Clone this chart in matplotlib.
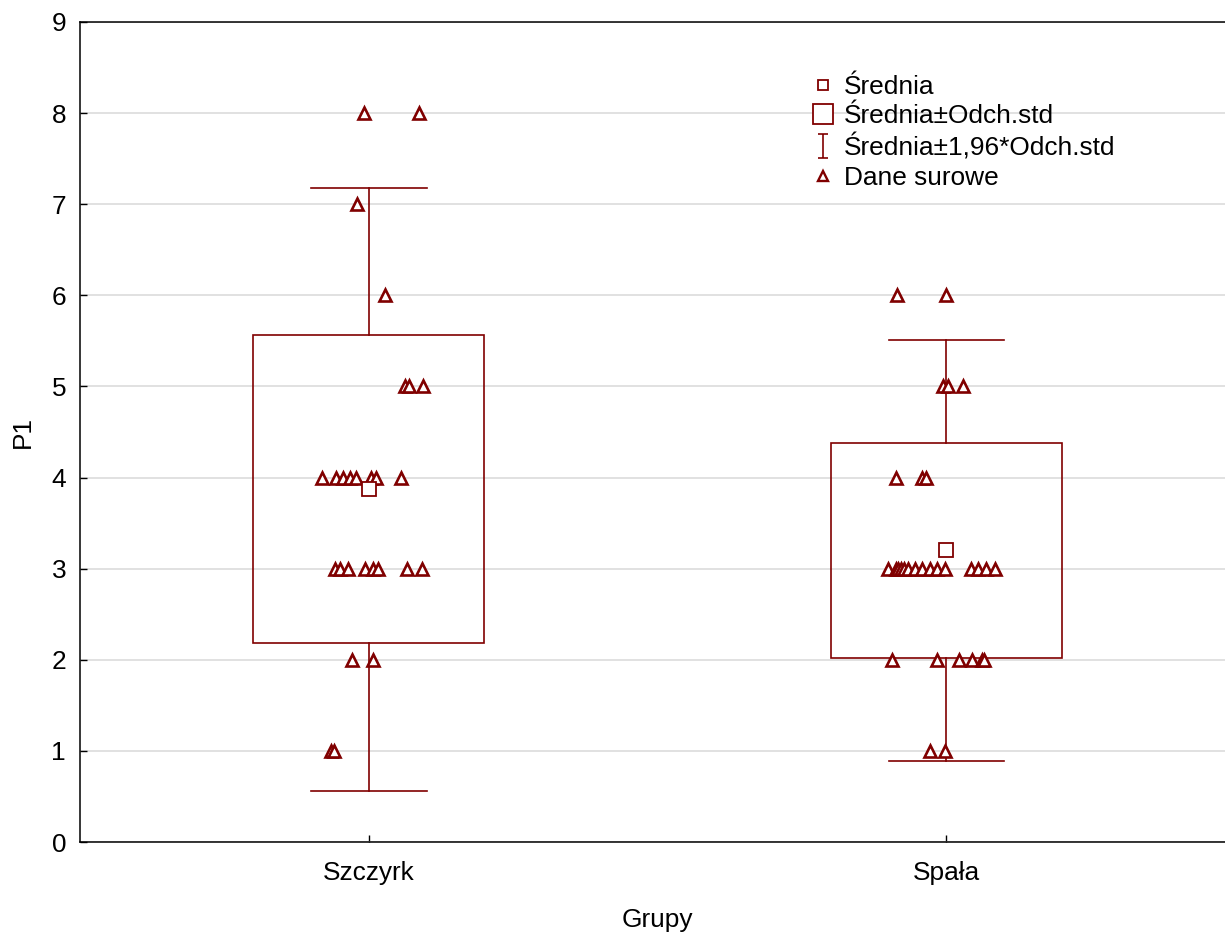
import matplotlib
matplotlib.use("Agg")
import matplotlib.pyplot as plt
from matplotlib.lines import Line2D
from matplotlib.path import Path
import numpy as np

plt.rcParams['font.family'] = ['Liberation Sans', 'DejaVu Sans']

groups = ["Szczyrk", "Spała"]
means = [3.87, 3.20]
sds = [1.69, 1.18]

# raw data: value and horizontal jitter (category units)
szczyrk_vals = [8, 8, 7, 6, 5, 5, 5,
                4, 4, 4, 4, 4, 4, 4, 4,
                3, 3, 3, 3, 3, 3, 3, 3,
                2, 2, 1, 1]
szczyrk_jit = [-0.009, 0.087, -0.021, 0.028, 0.062, 0.069, 0.094,
               -0.081, -0.057, -0.045, -0.033, -0.023, 0.003, 0.012, 0.055,
               -0.059, -0.049, -0.036, -0.007, 0.007, 0.016, 0.066, 0.092,
               -0.029, 0.007, -0.066, -0.061]
spala_vals = [6, 6, 5, 5, 5, 4, 4, 4,
              3, 3, 3, 3, 3, 3, 3, 3, 3, 3, 3, 3, 3, 3, 3,
              2, 2, 2, 2, 2, 2, 1, 1]
spala_jit = [-0.085, 0.0, -0.005, 0.002, 0.028, -0.087, -0.042, -0.036,
             -0.101, -0.088, -0.083, -0.078, -0.073, -0.066, -0.054, -0.042,
             -0.029, -0.016, -0.002, 0.042, 0.054, 0.068, 0.085,
             -0.094, -0.016, 0.021, 0.045, 0.061, 0.066, -0.029, -0.003]

col = "#800000"
fs = 18.9

fig = plt.figure(figsize=(12.25, 9.33), dpi=100)
ax = fig.add_axes([0.0653, 0.0975, 0.943, 0.879])

ax.yaxis.grid(True, color="#d9d9d9", linewidth=1.1)
ax.set_axisbelow(True)

for i, (m, s) in enumerate(zip(means, sds)):
    lo, hi = m - s, m + s
    ax.add_patch(plt.Rectangle((i - 0.2, lo), 0.4, hi - lo, fill=False,
                               edgecolor=col, linewidth=1.2, zorder=2))
    wlo, whi = m - 1.96 * s, m + 1.96 * s
    ax.plot([i, i], [hi, whi], color=col, lw=1.2, zorder=2)
    ax.plot([i, i], [wlo, lo], color=col, lw=1.2, zorder=2)
    ax.plot([i - 0.1, i + 0.1], [whi, whi], color=col, lw=1.2, zorder=2)
    ax.plot([i - 0.1, i + 0.1], [wlo, wlo], color=col, lw=1.2, zorder=2)
    ax.plot([i], [m], marker="s", markersize=10, markerfacecolor="white",
            markeredgecolor=col, markeredgewidth=1.3, zorder=4)

raw = [(szczyrk_vals, szczyrk_jit), (spala_vals, spala_jit)]
for i, (vals, jit) in enumerate(raw):
    ax.plot(i + np.array(jit), vals, linestyle="none", marker="^",
            markersize=8.5, markerfacecolor="white", markeredgecolor=col,
            markeredgewidth=1.9, zorder=3)

ax.set_xlim(-0.5, 1.5)
ax.set_ylim(0, 9)
ax.set_xticks(range(len(groups)))
ax.set_xticklabels(groups)
ax.set_yticks(range(10))
ax.tick_params(direction="in", labelsize=fs, length=5, width=1, pad=10)
ax.tick_params(axis="x", pad=14)
ax.spines["right"].set_visible(False)
for sp in ["left", "top", "bottom"]:
    ax.spines[sp].set_linewidth(1.1)

ax.set_xlabel("Grupy", fontsize=fs, labelpad=16)
ax.set_ylabel("P1", fontsize=fs, labelpad=12)

ibeam = Path([(-0.45, -1), (0.45, -1), (0, -1), (0, 1), (-0.45, 1), (0.45, 1)],
             [Path.MOVETO, Path.LINETO, Path.MOVETO, Path.LINETO,
              Path.MOVETO, Path.LINETO])
handles = [
    Line2D([], [], linestyle="none", marker="s", markersize=7.5,
           markerfacecolor="white", markeredgecolor=col, markeredgewidth=1.3),
    Line2D([], [], linestyle="none", marker="s", markersize=14,
           markerfacecolor="white", markeredgecolor=col, markeredgewidth=1.3),
    Line2D([], [], linestyle="none", marker=ibeam, markersize=17,
           markeredgecolor=col, markeredgewidth=1.2),
    Line2D([], [], linestyle="none", marker="^", markersize=7.5,
           markerfacecolor="white", markeredgecolor=col, markeredgewidth=1.7),
]
labels = ["Średnia", "Średnia±Odch.std", "Średnia±1,96*Odch.std", "Dane surowe"]
ax.legend(handles, labels, loc="upper left", bbox_to_anchor=(0.625, 0.948),
          frameon=False, fontsize=fs, handlelength=0.8, handletextpad=0.4,
          labelspacing=0.2, borderaxespad=0)

fig.savefig("out.png", dpi=100)
